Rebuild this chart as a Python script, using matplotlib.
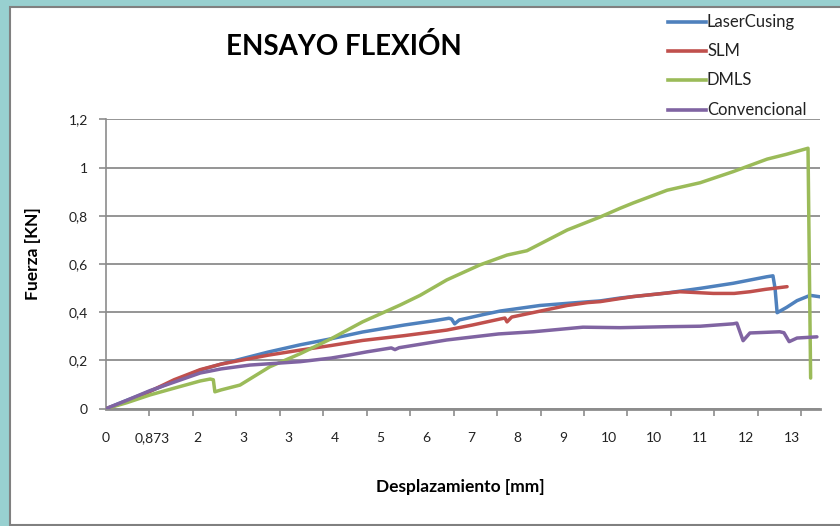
import matplotlib
matplotlib.use("Agg")
import matplotlib.pyplot as plt
from matplotlib.lines import Line2D
from matplotlib.patches import Rectangle
import numpy as np

plt.rcParams['font.family'] = ['Lato', 'DejaVu Sans']

# ---------------- data (displacement mm, force kN) ----------------
laser_x = [0, 0.4, 0.84, 1.3, 1.8, 2.2, 2.56, 3.1, 3.71, 4.3, 4.9, 5.7, 6.3, 6.55, 6.6, 6.66, 6.75,
           7.2, 7.53, 8.29, 9.0, 9.44, 9.82, 10.72, 11.35, 11.98, 12.62, 12.74, 12.78, 12.82,
           13.0, 13.2, 13.45, 13.64]
laser_y = [0, 0.035, 0.072, 0.115, 0.16, 0.185, 0.205, 0.235, 0.265, 0.29, 0.318, 0.347, 0.366,
           0.375, 0.372, 0.352, 0.368, 0.39, 0.405, 0.428, 0.44, 0.447, 0.459, 0.48, 0.499, 0.52,
           0.547, 0.551, 0.5, 0.398, 0.42, 0.448, 0.47, 0.464]

slm_x = [0, 0.4, 0.84, 1.3, 1.8, 2.2, 2.56, 3.1, 3.71, 4.3, 4.9, 5.7, 6.51, 7.0, 7.53, 7.62, 7.66,
         7.75, 8.3, 8.81, 9.2, 9.44, 10.07, 10.96, 11.6, 12.0, 12.3, 12.6, 13.01]
slm_y = [0, 0.03, 0.072, 0.12, 0.162, 0.185, 0.2, 0.222, 0.243, 0.262, 0.283, 0.303, 0.326, 0.347,
         0.372, 0.376, 0.36, 0.38, 0.405, 0.428, 0.44, 0.444, 0.465, 0.485, 0.478, 0.478, 0.485,
         0.495, 0.506]

dmls_x = [0, 0.4, 0.84, 1.3, 1.8, 1.99, 2.05, 2.08, 2.2, 2.56, 3.13, 3.71, 4.3, 4.9, 5.62, 6.0,
          6.51, 7.14, 7.66, 8.04, 8.81, 9.44, 9.82, 10.07, 10.72, 11.35, 11.98, 12.63, 13.0,
          13.41, 13.46]
dmls_y = [0, 0.025, 0.057, 0.085, 0.115, 0.123, 0.12, 0.07, 0.078, 0.098, 0.174, 0.228, 0.29,
          0.36, 0.43, 0.47, 0.534, 0.596, 0.637, 0.655, 0.741, 0.795, 0.831, 0.853, 0.906,
          0.937, 0.983, 1.035, 1.055, 1.08, 0.127]

conv_x = [0, 0.4, 0.84, 1.3, 1.8, 2.2, 2.75, 3.71, 4.3, 4.66, 4.99, 5.45, 5.52, 5.6, 6.51, 7.5,
          8.16, 9.11, 9.82, 10.72, 11.35, 11.98, 12.05, 12.17, 12.3, 12.87, 12.95, 13.05, 13.2,
          13.58]
conv_y = [0, 0.035, 0.075, 0.11, 0.148, 0.165, 0.181, 0.195, 0.21, 0.223, 0.236, 0.252, 0.245,
          0.253, 0.285, 0.31, 0.319, 0.338, 0.336, 0.34, 0.342, 0.352, 0.355, 0.282, 0.314,
          0.319, 0.315, 0.278, 0.293, 0.298]

series_names = ["LaserCusing", "SLM", "DMLS", "Convencional"]
series_colors = ["#4F81BD", "#C0504D", "#9BBB59", "#8064A2"]

x_tick_labels = ["0", "0,873", "2", "3", "3", "4", "5", "6", "7", "8", "9", "10", "10", "11", "12", "13"]
x_label_step = 0.873
x_tick_step = 0.830
y_ticks = [0, 0.2, 0.4, 0.6, 0.8, 1.0, 1.2]
y_tick_labels = ["0", "0,2", "0,4", "0,6", "0,8", "1", "1,2"]

title = "ENSAYO FLEXIÓN"
xlabel = "Desplazamiento [mm]"
ylabel = "Fuerza [KN]"

# ---------------- figure ----------------
W, H = 840, 526
fig = plt.figure(figsize=(W / 100, H / 100), dpi=100)
fig.patch.set_facecolor("#98D0D0")

def fx(px):
    return px / W

def fy(py):
    return 1 - py / H

panel = Rectangle((fx(10), fy(525)), fx(845) - fx(10), fy(7) - fy(525),
                  transform=fig.transFigure, facecolor="white", edgecolor="#808080",
                  linewidth=1.5, zorder=0)
fig.add_artist(panel)

ax = fig.add_axes([fx(106), fy(408.7), fx(820) - fx(106), fy(119.3) - fy(408.7)])
ax.set_facecolor("none")

grid_c = "#8C8C8C"
for name, c, xs, ys in zip(series_names, series_colors,
                           [laser_x, slm_x, dmls_x, conv_x],
                           [laser_y, slm_y, dmls_y, conv_y]):
    ax.plot(xs, ys, color=c, lw=2.5, solid_joinstyle="round", solid_capstyle="round",
            label=name, zorder=3)

ax.set_xlim(0, (820 - 106) / 52.35)
ax.set_ylim(0, 1.2)

ax.set_yticks(y_ticks)
ax.set_yticklabels(y_tick_labels)
ax.yaxis.grid(True, color=grid_c, lw=1.3)
ax.set_axisbelow(True)

label_pos = [i * x_label_step for i in range(len(x_tick_labels))]
ax.set_xticks(label_pos)
ax.set_xticklabels(x_tick_labels)
ax.set_xticks([i * x_tick_step for i in range(17)], minor=True)
ax.tick_params(axis="x", which="major", length=0, pad=17, labelsize=10, labelcolor="#222222")
ax.tick_params(axis="x", which="minor", length=5, width=1.2, color=grid_c, direction="out")
ax.tick_params(axis="y", which="major", length=5, width=1.2, color=grid_c, direction="out",
               pad=8, labelsize=10, labelcolor="#222222")

for s in ["top", "right"]:
    ax.spines[s].set_visible(False)
for s in ["left", "bottom"]:
    ax.spines[s].set_color(grid_c)
ax.spines["left"].set_linewidth(1.2)
ax.spines["bottom"].set_linewidth(2.0)

fig.text(fx(344), fy(55), title, ha="center", va="baseline", fontsize=20, fontweight="bold",
         color="black")
fig.text(fx(460), fy(492), xlabel, ha="center", va="baseline", fontsize=12.5, fontweight="bold",
         color="black")
fig.text(fx(33), fy(254), ylabel, ha="center", va="center", rotation=90, fontsize=12.5,
         fontweight="bold", color="black")

leg_y = [21.7, 50.7, 80, 110]
for name, c, ly in zip(series_names, series_colors, leg_y):
    fig.add_artist(Line2D([fx(668), fx(706)], [fy(ly), fy(ly)], transform=fig.transFigure,
                          color=c, lw=2.6))
    fig.text(fx(707), fy(ly), name, ha="left", va="center", fontsize=12, color="#222222")

fig.savefig("out.png", dpi=100, facecolor=fig.get_facecolor())
